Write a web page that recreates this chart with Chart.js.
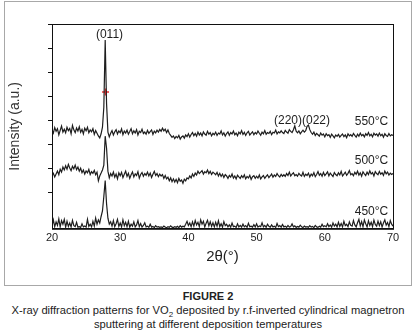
<!DOCTYPE html>
<html>
<head>
<meta charset="utf-8">
<script src="https://cdn.jsdelivr.net/npm/chart.js@4.4.1/dist/chart.umd.min.js"></script>
<style>
  html, body { margin: 0; padding: 0; background: #fff; }
  body { width: 416px; height: 330px; position: relative; overflow: hidden;
         font-family: "Liberation Sans", Arial, sans-serif; color: #222; }
  #frame { position: absolute; left: 4px; top: 1px; width: 406px; height: 283px; border: 1px solid #a8a8a8; }
  #xrd { position: absolute; left: 0; top: 0; }
  #caption { position: absolute; left: 0; top: 289px; width: 416px; text-align: center;
             font-size: 11.2px; line-height: 14px; }
  #caption b { display: block; font-size: 11px; }
  #caption sub { font-size: 8px; line-height: 0; vertical-align: -3px; }
</style>
</head>
<body>
<div id="frame"></div>
<canvas id="xrd" width="416" height="288"></canvas>
<div id="caption"><b>FIGURE 2</b>X-ray diffraction patterns for VO<sub>2</sub> deposited by r.f-inverted cylindrical magnetron<br>sputtering at different deposition temperatures</div>
<script>
/* XRD patterns of VO2 films, three deposition temperatures, traces offset vertically.
 * 2θ grid runs 20..70 in 0.2° steps; intensities are read off the figure (arbitrary units). */

var TWO_THETA = [];
for (var i = 0; i <= 250; i++) TWO_THETA.push(Math.round((20 + i * 0.2) * 10) / 10);

var X_TICKS = [20, 30, 40, 50, 60, 70];

// 550 °C (top trace)
var I_550 = [
  362, 348, 371, 355, 366, 340, 359, 377, 352, 364,
  349, 372, 358, 367, 345, 380, 361, 350, 369, 356,
  374, 351, 363, 344, 368, 357, 372, 349, 361, 353,
  366, 342, 358, 347, 336, 328, 345, 372, 455, 734,
  470, 352, 332, 347, 358, 340, 353, 362, 344, 357,
  349, 365, 341, 356, 348, 360, 343, 354, 366, 345,
  357, 348, 362, 340, 355, 350, 364, 346, 352, 343,
  359, 347, 354, 361, 342, 356, 349, 360, 352, 363,
  355, 368, 357, 364, 350, 361, 346, 338, 330, 336,
  325, 334, 328, 338, 323, 332, 336, 327, 340, 333,
  345, 331, 342, 350, 337, 346, 335, 352, 340, 348,
  336, 353, 344, 339, 355, 343, 350, 336, 347, 341,
  352, 338, 348, 344, 357, 340, 349, 335, 346, 353,
  339, 350, 344, 356, 341, 348, 337, 352, 345, 358,
  342, 351, 338, 349, 355, 340, 347, 353, 341, 350,
  344, 356, 347, 339, 352, 345, 358, 343, 350, 346,
  355, 341, 351, 348, 360, 344, 353, 349, 357, 350,
  346, 359, 352, 347, 362, 355, 350, 362, 378, 356,
  349, 357, 345, 353, 360, 352, 358, 376, 381, 362,
  350, 343, 352, 338, 346, 341, 335, 348, 339, 344,
  332, 345, 337, 341, 330, 343, 336, 328, 340, 334,
  342, 331, 338, 344, 333, 340, 329, 345, 336, 341,
  334, 346, 338, 331, 343, 335, 348, 337, 342, 332,
  345, 338, 350, 336, 343, 332, 347, 339, 344, 335,
  348, 337, 343, 331, 345, 338, 334, 346, 336, 341,
  338
];

// 500 °C (middle trace)
var I_500 = [
  172, 181, 166, 178, 190, 175, 198, 186, 207, 195,
  212, 198, 218, 203, 192, 210, 200, 215, 196, 207,
  190, 202, 184, 195, 178, 191, 183, 197, 176, 188,
  181, 193, 175, 186, 150, 170, 182, 195, 215, 335,
  285, 190, 162, 180, 170, 186, 165, 178, 158, 183,
  171, 185, 163, 177, 190, 168, 181, 160, 175, 187,
  166, 179, 172, 188, 161, 176, 184, 169, 180, 173,
  186, 170, 182, 164, 177, 189, 172, 180, 167, 178,
  170, 176, 160, 172, 158, 165, 150, 162, 146, 158,
  145, 156, 142, 160, 148, 153, 140, 157, 150, 162,
  158, 170, 162, 178, 168, 182, 174, 190, 180, 186,
  192, 178, 188, 183, 195, 180, 189, 176, 186, 181,
  175, 185, 170, 181, 168, 178, 164, 176, 170, 160,
  172, 165, 178, 161, 170, 158, 173, 166, 160, 171,
  163, 175, 158, 168, 162, 173, 156, 167, 171, 160,
  169, 161, 174, 158, 166, 172, 160, 168, 175, 163,
  170, 178, 165, 174, 168, 180, 171, 166, 177, 169,
  175, 168, 180, 172, 186, 170, 178, 183, 171, 176,
  169, 181, 174, 170, 185, 168, 177, 172, 182, 166,
  178, 171, 184, 167, 176, 188, 173, 180, 169, 185,
  172, 179, 187, 170, 182, 175, 168, 184, 176, 171,
  183, 174, 189, 170, 178, 186, 173, 181, 192, 175,
  180, 171, 185, 177, 190, 174, 183, 169, 187, 179,
  172, 186, 176, 191, 178, 184, 170, 188, 180, 175,
  189, 177, 183, 172, 190, 179, 186, 174, 182, 176,
  180
];

// 450 °C (bottom trace)
var I_450 = [
  -38, -12, -40, -20, -35, -8, -41, -15, -30, -10,
  -42, -18, -39, -25, -41, -14, -36, -40, -22, -42,
  -40, -43, -28, -41, -37, -42, -10, -39, -30, -41,
  -18, -38, -5, -30, -12, -25, 2, 25, 85, 151,
  55, -5, -30, -20, -38, -15, -40, -28, -10, -39,
  -25, -41, -12, -36, -22, -40, -18, -42, -30, -38,
  -20, -41, -33, -15, -40, -27, -42, -35, -24, -41,
  -38, -43, -30, -42, -39, -44, -36, -42, -40, -43,
  -41, -44, -38, -42, -45, -40, -43, -37, -42, -44,
  -40, -43, -39, -44, -36, -42, -38, -41, -30, -18,
  -35, -25, -40, -20, -38, -15, -33, -22, -40, -12,
  -30, -18, -41, -26, -14, -37, -20, -39, -24, -41,
  -22, -38, -16, -40, -28, -42, -19, -36, -30, -41,
  -33, -42, -25, -40, -38, -43, -28, -41, -35, -42,
  -30, -41, -36, -43, -26, -40, -38, -42, -32, -41,
  -28, -42, -37, -40, -24, -41, -35, -43, -30, -39,
  -42, -33, -41, -38, -43, -27, -40, -36, -42, -31,
  -41, -38, -43, -35, -42, -40, -29, -41, -37, -43,
  -39, -42, -34, -41, -44, -38, -42, -40, -43, -36,
  -42, -39, -44, -35, -41, -43, -38, -42, -30, -40,
  -36, -41, -28, -40, -33, -42, -25, -38, -30, -41,
  -22, -39, -27, -41, -18, -36, -30, -40, -20, -35,
  -38, -15, -33, -41, -24, -10, -37, -19, -40, -12,
  -28, -41, -16, -35, -22, -40, -13, -31, -38, -17,
  -36, -20, -41, -25, -12, -34, -23, -40, -15, -30,
  -38
];

// the small red cursor mark on the (011) peak
var MARKER_X = [27.85];
var MARKER_Y = [518];

// peak indices and temperature labels, anchored in data units
var LABEL_TEXT = ['(011)', '(220)(022)', '550\u00B0C', '500\u00B0C', '450\u00B0C'];
var LABEL_X    = [28.43, 56.66, 69.3, 69.3, 69.3];
var LABEL_Y    = [755, 400, 396, 233, 20];
var LABEL_ALIGN = ['center', 'center', 'right', 'right', 'right'];

var INK = '#1e1e1e';
var FONT = '"Liberation Sans", Arial, sans-serif';

function toPoints(ys) {
  return TWO_THETA.map(function (x, i) { return { x: x, y: ys[i] }; });
}

function traceDataset(ys) {
  return {
    data: toPoints(ys),
    borderColor: INK,
    borderWidth: 1.2,
    pointRadius: 0,
    tension: 0,
    fill: false
  };
}

// closes the plot box and writes the peak/temperature labels
var framePlugin = {
  id: 'frameAndLabels',
  afterDatasetsDraw: function (chart) {
    var ctx = chart.ctx, a = chart.chartArea;
    var xs = chart.scales.x, ys = chart.scales.y;
    ctx.save();
    ctx.strokeStyle = '#111';
    ctx.lineWidth = 1;
    ctx.strokeRect(a.left + 0.5, a.top + 0.5, a.right - a.left, a.bottom - a.top);
    ctx.fillStyle = INK;
    ctx.font = '12px ' + FONT;
    ctx.textBaseline = 'middle';
    for (var k = 0; k < LABEL_TEXT.length; k++) {
      ctx.textAlign = LABEL_ALIGN[k];
      ctx.fillText(LABEL_TEXT[k], xs.getPixelForValue(LABEL_X[k]), ys.getPixelForValue(LABEL_Y[k]));
    }
    ctx.restore();
  }
};

new Chart(document.getElementById('xrd'), {
  type: 'line',
  data: {
    datasets: [
      traceDataset(I_550),
      traceDataset(I_500),
      traceDataset(I_450),
      {
        type: 'scatter',
        data: MARKER_X.map(function (x, i) { return { x: x, y: MARKER_Y[i] }; }),
        pointStyle: 'cross',
        pointRadius: 3.5,
        borderColor: '#f03030',
        borderWidth: 1.5,
        showLine: false
      }
    ]
  },
  options: {
    responsive: false,
    animation: false,
    layout: { padding: { left: 4, right: 23, top: 24, bottom: 14 } },
    plugins: { legend: { display: false }, tooltip: { enabled: false } },
    scales: {
      x: {
        type: 'linear',
        min: 20, max: 70,
        afterBuildTicks: function (s) { s.ticks = X_TICKS.map(function (v) { return { value: v }; }); },
        ticks: { color: INK, font: { family: FONT, size: 11 }, padding: 3, maxRotation: 0 },
        grid: { display: false, drawTicks: false },
        border: { display: true, color: '#111', width: 1 },
        title: {
          display: true, text: '2\u03B8(\u00B0)', color: INK,
          font: { family: FONT, size: 15 }, padding: { top: 0, bottom: 8 }
        }
      },
      y: {
        min: -49, max: 800,
        afterBuildTicks: function (s) { s.ticks = s.ticks.filter(function (t) { return t.value >= 0; }); },
        afterFit: function (s) { s.width = 48; },
        ticks: { display: false, stepSize: 100 },
        grid: { display: true, drawOnChartArea: false, drawTicks: true, tickLength: 4, color: '#111' },
        border: { display: true, color: '#111', width: 1 },
        title: {
          display: true, text: 'Intensity (a.u.)', color: '#333',
          font: { family: FONT, size: 14 }, padding: { top: 3, bottom: 0 }
        }
      }
    }
  },
  plugins: [framePlugin]
});
</script>
</body>
</html>
